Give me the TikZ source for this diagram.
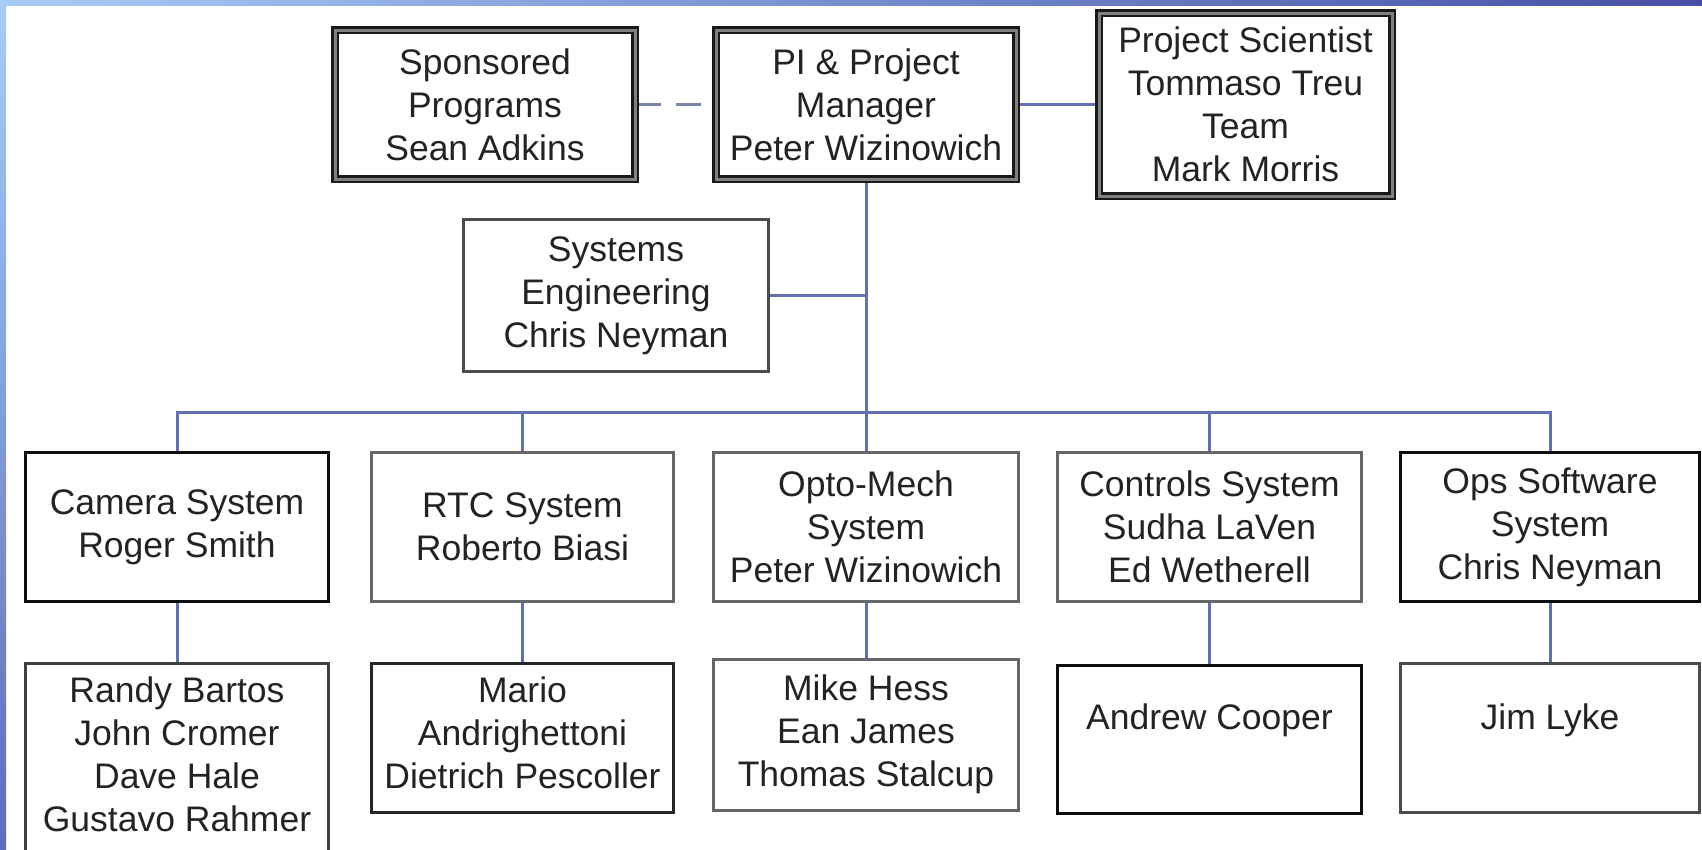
\documentclass[tikz,border=0pt]{standalone}
\usepackage{fontspec}
\setmainfont{Liberation Sans}
\usetikzlibrary{backgrounds}
\pgfdeclarelayer{canvas}
\pgfsetlayers{canvas,background,main}
\definecolor{conncol}{RGB}{96,112,176}
\definecolor{dashcol}{RGB}{120,132,168}
\definecolor{txtcol}{RGB}{35,35,35}
\definecolor{frameA}{RGB}{168,204,248}
\definecolor{frameB}{RGB}{70,80,165}
\definecolor{frameC}{RGB}{92,108,182}
\newcommand{\orgfnt}{\fontsize{35.5pt}{43pt}\selectfont}
\tikzset{
  box/.style={draw=black!80, line width=3pt, fill=white, inner sep=0pt,
              align=center, font=\orgfnt, text=txtcol},
  dbox/.style={draw=black!90, line width=2.5pt, double=gray, double distance=3pt,
              fill=white, inner sep=0pt, align=center, font=\orgfnt, text=txtcol},
  lbl/.style={inner sep=0pt, align=center, font=\orgfnt, text=txtcol},
  conn/.style={draw=conncol, line width=3pt},
  dconn/.style={draw=dashcol, line width=3pt, dash pattern=on 25pt off 15pt}
}
\begin{document}
\begin{tikzpicture}[x=1pt,y=-1pt]
\useasboundingbox (0,0) rectangle (1702,849);
\clip (0,0) rectangle (1702,849);
\begin{pgfonlayer}{canvas}
\fill[white] (0,0) rectangle (1702,849);
\shade[left color=frameA, right color=frameB] (0,0) rectangle (1702,5);
\shade[top color=frameA, bottom color=frameC] (0,0) rectangle (6,849);
\end{pgfonlayer}

% top row
\node[dbox, minimum width=300, minimum height=149] (spons) at (485,104.5) {Sponsored\\Programs\\Sean Adkins};
\node[dbox, minimum width=300, minimum height=149] (pi) at (866,104.5) {PI \& Project\\Manager\\Peter Wizinowich};
\node[dbox, minimum width=293, minimum height=183] (ps) at (1245.5,104.5) {Project Scientist\\Tommaso Treu\\Team\\Mark Morris};
\node[box, draw=black!70, minimum width=305, minimum height=152] (se) at (616,295.5) {Systems\\Engineering\\Chris Neyman};

% second row
\node[box, draw=black!95, minimum width=303, minimum height=149] (cam) at (177,527) {Camera System\\Roger Smith};
\node[box, draw=black!60, minimum width=302, minimum height=149] (rtc) at (522.5,527) {RTC System\\Roberto Biasi};
\node[box, draw=black!60, minimum width=305, minimum height=149] (opto) at (866,527) {Opto-Mech\\System\\Peter Wizinowich};
\node[box, draw=black!60, minimum width=304, minimum height=149] (ctrl) at (1209.5,527) {Controls System\\Sudha LaVen\\Ed Wetherell};
\node[box, draw=black!95, minimum width=299, minimum height=149] (ops) at (1550,527) {Ops Software\\System\\Chris Neyman};

% third row
\node[box, draw=black!75, minimum width=303, minimum height=205] (camT) at (177,766) {};
\node[box, draw=black!85, minimum width=302, minimum height=149] (rtcT) at (522.5,738) {};
\node[box, draw=black!60, minimum width=305, minimum height=151] (optoT) at (866,735) {};
\node[box, draw=black!95, minimum width=304, minimum height=148] (ctrlT) at (1209.5,739.5) {};
\node[box, draw=black!70, minimum width=299, minimum height=149] (opsT) at (1550,738) {};

\node[lbl, anchor=north] (camTt) at (177,677) {Randy Bartos\\John Cromer\\Dave Hale\\Gustavo Rahmer};
\node[lbl, anchor=north] (rtcTt) at (522.5,677) {Mario\\Andrighettoni\\Dietrich Pescoller};
\node[lbl, anchor=north] (optoTt) at (866,675) {Mike Hess\\Ean James\\Thomas Stalcup};
\node[lbl, anchor=north] (ctrlTt) at (1209.5,704) {Andrew Cooper};
\node[lbl, anchor=north] (opsTt) at (1550,704) {Jim Lyke};

\coordinate (bus) at (866,412);

\begin{pgfonlayer}{background}
\draw[dconn] (spons.east) -- (pi.west);
\draw[conn] (pi.east) -- (ps.west);
\draw[conn] (pi.south) -- (opto.north);
\draw[conn] (se.east) -- (se.east -| pi.south);
\draw[conn] (cam.north) |- (bus) -| (ops.north);
\draw[conn] (rtc.north) |- (bus);
\draw[conn] (ctrl.north) |- (bus);
\draw[conn] (cam.south) -- (camT.north);
\draw[conn] (rtc.south) -- (rtcT.north);
\draw[conn] (opto.south) -- (optoT.north);
\draw[conn] (ctrl.south) -- (ctrlT.north);
\draw[conn] (ops.south) -- (opsT.north);
\end{pgfonlayer}
\end{tikzpicture}
\end{document}
